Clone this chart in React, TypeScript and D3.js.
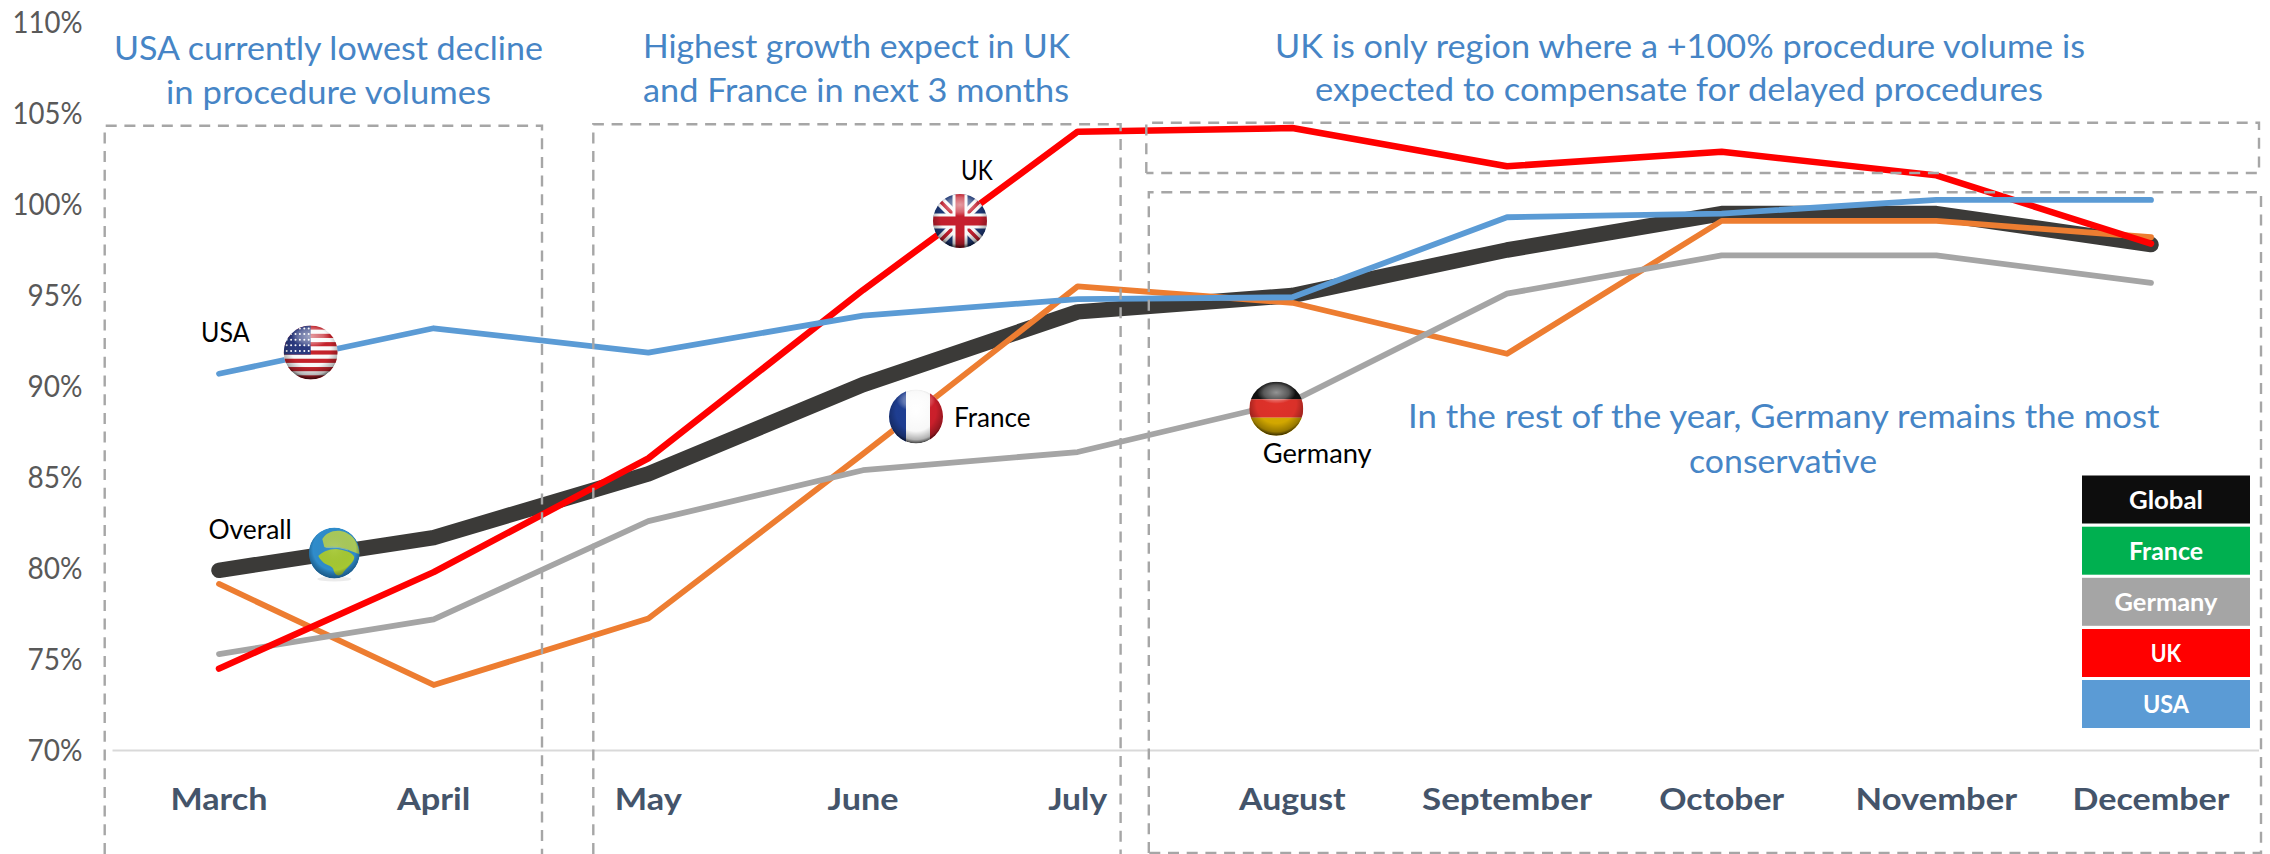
import React from "react";
import * as d3 from "d3";

const months = ["March","April","May","June","July","August","September","October","November","December"];
const yTicks = [70,75,80,85,90,95,100,105,110];
const globalValues = [79.9,81.7,85.2,90.1,94.1,95.0,97.5,99.5,99.5,97.8];
const franceValues = [79.15,73.6,77.25,86.3,95.5,94.6,91.8,99.1,99.1,98.2];
const germanyValues = [75.3,77.2,82.6,85.4,86.4,89.2,95.1,97.2,97.2,95.7];
const ukValues = [74.5,79.8,86.05,95.3,104.0,104.2,102.1,102.9,101.6,97.85];
const usaValues = [90.7,93.2,91.86,93.9,94.8,94.9,99.3,99.5,100.25,100.25];
const legendNames = ["Global","France","Germany","UK","USA"];

const W = 2270, H = 854;
const x = d3.scalePoint<string>().domain(months).range([219, 2151]);
const y = d3.scaleLinear().domain([70, 110]).range([750.5, 22.5]);
const lineGen = d3.line<number>().x((_, i) => x(months[i]) as number).y(d => y(d));

const seriesStyles = [
  { values: globalValues, color: "#3b3a38", w: 15.5 },
  { values: franceValues, color: "#ed7d31", w: 5.8 },
  { values: germanyValues, color: "#a5a5a5", w: 5.8 },
  { values: ukValues, color: "#ff0000", w: 6.5 },
  { values: usaValues, color: "#5b9bd5", w: 5.8 },
];

const FONT = "Lato, 'Open Sans', sans-serif";
const monthWidths = [97, 73.5, 67, 71, 59, 106.6, 170, 125, 161.5, 157];
const legendWidths = [74, 74, 103, 30.5, 46];
const legendColors = ["#0d0d0d", "#00b050", "#a5a5a5", "#ff0000", "#5b9bd5"];
const legendTops = [475.5, 526.7, 577.8, 629, 680];

const BLUE = "#4685c6";
const notes = [
  { t: "USA currently lowest decline", x0: 114, x1: 543, b: 59.5 },
  { t: "in procedure volumes", x0: 166, x1: 491, b: 103.5 },
  { t: "Highest growth expect in UK", x0: 643, x1: 1070, b: 57.5 },
  { t: "and France in next 3 months", x0: 643, x1: 1069, b: 101.5 },
  { t: "UK is only region where a +100% procedure volume is", x0: 1275, x1: 2085, b: 57.5 },
  { t: "expected to compensate for delayed procedures", x0: 1315, x1: 2043, b: 100.5 },
  { t: "In the rest of the year, Germany remains the most", x0: 1408, x1: 2159.5, b: 428 },
  { t: "conservative", x0: 1689, x1: 1877, b: 473 },
];
const seriesLabels = [
  { t: "USA", x0: 201, x1: 249.6, b: 341.7 },
  { t: "UK", x0: 961, x1: 992.7, b: 180 },
  { t: "France", x0: 954, x1: 1030.5, b: 427 },
  { t: "Germany", x0: 1262.7, x1: 1371.7, b: 463 },
  { t: "Overall", x0: 208.4, x1: 291.8, b: 539 },
];
const boxes = [
  "M104.7 854V125.7H542V854",
  "M593.3 854V124.3H1120.6V854",
  "M1146.3 173V122.7H2259V173H1146.3",
  "M1148.8 853V192.3H2261V853H1148.8",
];

function Fit({ t, x0, x1, b, size, fill, weight = 400 }: any) {
  return (
    <text x={x0} y={b} fontFamily={FONT} fontSize={size} fill={fill} fontWeight={weight}
      textLength={x1 - x0} lengthAdjust="spacingAndGlyphs">{t}</text>
  );
}

function Sphere({ id, cx, cy, r, children }: any) {
  return (
    <g transform={`translate(${cx},${cy})`}>
      <clipPath id={id}><circle r={r} /></clipPath>
      <g clipPath={`url(#${id})`}>
        {children}
        <circle r={r} fill="url(#shade)" />
        <ellipse cx={0} cy={-r * 0.6} rx={r * 0.72} ry={r * 0.42} fill="url(#gloss)" />
      </g>
    </g>
  );
}

const r = 27;
const stripes = d3.range(13);
const stars = d3.range(5).flatMap(row => d3.range(6).map(col => [col, row]));

function UsFlag() {
  const h = (2 * r) / 13;
  return (
    <Sphere id="us" cx={310.7} cy={352.5} r={r}>
      <rect x={-r} y={-r} width={2 * r} height={2 * r} fill="#fff" />
      {stripes.filter(i => i % 2 === 0).map(i => (
        <rect key={i} x={-r} y={-r + i * h} width={2 * r} height={h} fill="#c8232c" />
      ))}
      <rect x={-r} y={-r} width={r} height={7 * h} fill="#2b3a80" />
      {stars.map(([c, w]) => (
        <circle key={`${c}-${w}`} cx={-r + 3 + c * 4.4} cy={-r + 3 + w * 5.6} r={1} fill="#fff" />
      ))}
    </Sphere>
  );
}
function UkFlag() {
  return (
    <Sphere id="uk" cx={960} cy={221} r={r}>
      <rect x={-r} y={-r} width={2 * r} height={2 * r} fill="#1f3a7a" />
      <path d={`M${-r} ${-r}L${r} ${r}M${r} ${-r}L${-r} ${r}`} stroke="#fff" strokeWidth={10} />
      <path d={`M${-r} ${-r}L${r} ${r}M${r} ${-r}L${-r} ${r}`} stroke="#c8202f" strokeWidth={3.5} />
      <path d={`M0 ${-r}V${r}M${-r} 0H${r}`} stroke="#fff" strokeWidth={15} />
      <path d={`M0 ${-r}V${r}M${-r} 0H${r}`} stroke="#c8202f" strokeWidth={9} />
    </Sphere>
  );
}
function FrFlag() {
  return (
    <Sphere id="fr" cx={916} cy={416.5} r={r}>
      <rect x={-r} y={-r} width={2 * r} height={2 * r} fill="#fff" />
      <rect x={-r} y={-r} width={17} height={2 * r} fill="#1f3f94" />
      <rect x={r - 13} y={-r} width={13} height={2 * r} fill="#d0202c" />
    </Sphere>
  );
}
function DeFlag() {
  return (
    <Sphere id="de" cx={1276.3} cy={408.7} r={r}>
      <rect x={-r} y={-r} width={2 * r} height={17.6} fill="#111" />
      <rect x={-r} y={-9.4} width={2 * r} height={18.4} fill="#e0322a" />
      <rect x={-r} y={9} width={2 * r} height={18} fill="#d8ac00" />
    </Sphere>
  );
}
function Globe() {
  return (
    <g transform="translate(334.3,553)">
      <ellipse cx={0} cy={26} rx={17} ry={2.5} fill="#000" opacity={0.08} />
      <clipPath id="gl"><circle r={25.5} /></clipPath>
      <g clipPath="url(#gl)">
        <circle r={25.5} fill="#2f8ccb" />
        <path d="M-12 -14C-6 -24 10 -26 20 -14C24 -8 25 -2 25 1C18 -1 14 -4 6 -5C0 -6 -6 -4 -10 -6Z" fill="#a9c95a" />
        <path d="M-16 3C-12 -1 -6 -4 2 -4C10 -3 18 -1 20 4C20 10 12 14 8 21C4 24 0 22 -1 16C-3 11 -10 14 -16 3Z" fill="#a5c832" />
        <path d="M-8 -5.5C0 -7 8 -5 14 -3" fill="none" stroke="#7fb7b0" strokeWidth={1.2} />
        <circle r={25.5} fill="url(#shadeGlobe)" />
      </g>
    </g>
  );
}

export default function App() {
  return (
    <svg width={W} height={H} viewBox={`0 0 ${W} ${H}`}
      style={{ position: "absolute", left: 0, top: 0, display: "block", background: "#fff" }}>
      <defs>
        <radialGradient id="shade" cx="50%" cy="40%" r="62%">
          <stop offset="0%" stopColor="#000" stopOpacity={0} />
          <stop offset="60%" stopColor="#000" stopOpacity={0.03} />
          <stop offset="85%" stopColor="#000" stopOpacity={0.3} />
          <stop offset="100%" stopColor="#000" stopOpacity={0.9} />
        </radialGradient>
        <radialGradient id="shadeGlobe" cx="50%" cy="42%" r="58%">
          <stop offset="0%" stopColor="#fff" stopOpacity={0.08} />
          <stop offset="72%" stopColor="#000" stopOpacity={0} />
          <stop offset="100%" stopColor="#024" stopOpacity={0.5} />
        </radialGradient>
        <radialGradient id="gloss">
          <stop offset="0%" stopColor="#fff" stopOpacity={0.55} />
          <stop offset="65%" stopColor="#fff" stopOpacity={0.3} />
          <stop offset="100%" stopColor="#fff" stopOpacity={0} />
        </radialGradient>
      </defs>

      <line x1={112.5} x2={2259} y1={y(70)} y2={y(70)} stroke="#d9d9d9" strokeWidth={2} />

      {yTicks.map(t => (
        <text key={t} x={82.5} y={y(t) + 10} textAnchor="end" fontFamily={FONT} fontSize={30} fill="#595959"
          textLength={t >= 100 ? 70 : 55} lengthAdjust="spacingAndGlyphs">{t}%</text>
      ))}

      {months.map((m, i) => {
        const cx = x(m) as number;
        return (
          <text key={m} x={cx - monthWidths[i] / 2} y={810} fontFamily={FONT} fontSize={31} fontWeight={700} fill="#44546a"
            textLength={monthWidths[i]} lengthAdjust="spacingAndGlyphs">{m}</text>
        );
      })}

      {seriesStyles.map((s, i) => (
        <path key={i} d={lineGen(s.values) as string} fill="none" stroke={s.color} strokeWidth={s.w}
          strokeLinecap="round" strokeLinejoin="round" />
      ))}

      {boxes.map((d, i) => (
        <path key={i} d={d} fill="none" stroke="#a6a6a6" strokeWidth={2.4} strokeDasharray="11 7.7" />
      ))}

      {notes.map(n => <Fit key={n.t} {...n} size={33} fill={BLUE} />)}
      {seriesLabels.map(n => <Fit key={n.t} {...n} size={26} fill="#000" />)}

      <UsFlag /><UkFlag /><FrFlag /><DeFlag /><Globe />

      {legendNames.map((n, i) => (
        <g key={n}>
          <rect x={2082} y={legendTops[i]} width={168} height={48} fill={legendColors[i]} />
          <text x={2166 - legendWidths[i] / 2} y={legendTops[i] + 33} fontFamily={FONT} fontSize={24} fontWeight={700} fill="#fff"
            textLength={legendWidths[i]} lengthAdjust="spacingAndGlyphs">{n}</text>
        </g>
      ))}
    </svg>
  );
}
